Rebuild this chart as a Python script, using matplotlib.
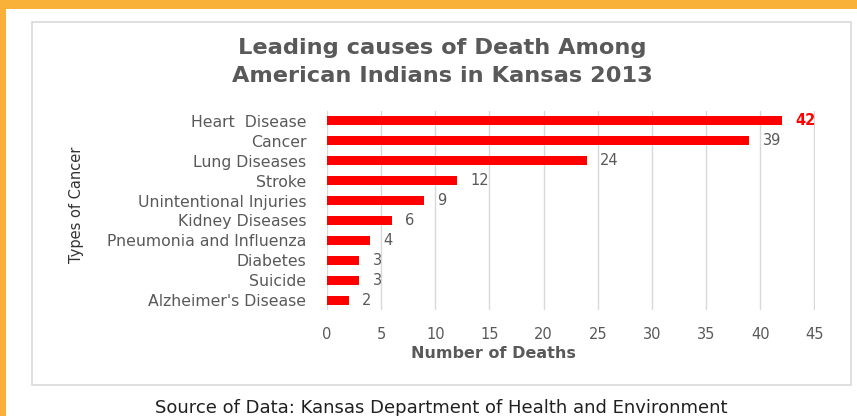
import matplotlib
matplotlib.use("Agg")
import matplotlib.pyplot as plt
from matplotlib.patches import Rectangle

plt.rcParams["font.family"] = ["DejaVu Sans"]

categories = ["Heart  Disease", "Cancer", "Lung Diseases", "Stroke", "Unintentional Injuries",
              "Kidney Diseases", "Pneumonia and Influenza", "Diabetes", "Suicide", "Alzheimer's Disease"]
deaths = [42, 39, 24, 12, 9, 6, 4, 3, 3, 2]
xticks = [0, 5, 10, 15, 20, 25, 30, 35, 40, 45]

W, H = 857, 416
fig = plt.figure(figsize=(W / 100, H / 100), dpi=100)
fig.patch.set_facecolor("white")

def px(x0, y0, w, h, **kw):
    fig.patches.append(Rectangle((x0 / W, 1 - (y0 + h) / H), w / W, h / H,
                                 transform=fig.transFigure, **kw))

orange = "#F9B13A"
px(0, 0, W, 9, facecolor=orange, edgecolor="none", zorder=-10)
px(0, 0, 6, H, facecolor=orange, edgecolor="none", zorder=-10)
px(32, 22, 819, 363, facecolor="white", edgecolor="#D9D9D9", linewidth=1.2, zorder=-10)

ax = fig.add_axes([327 / W, 1 - 310 / H, (815 - 327) / W, (310 - 111) / H])
ax.set_zorder(5)
ax.set_facecolor("none")
ypos = list(range(len(categories)))
ax.barh(ypos, deaths, height=0.45, color="#FF0000", zorder=3)
ax.set_ylim(len(categories) - 0.5, -0.5)
ax.set_xlim(0, 45.05)
ax.set_xticks(xticks)
ax.set_xticklabels([str(t) for t in xticks])
ax.set_yticks(ypos)
ax.set_yticklabels(categories)
for s in ax.spines.values():
    s.set_visible(False)
ax.tick_params(axis="both", length=0, colors="#595959")
ax.tick_params(axis="x", pad=12, labelsize=10.5)
ax.tick_params(axis="y", pad=15, labelsize=11.3)
ax.grid(axis="x", color="#D9D9D9", linewidth=1, zorder=0)
ax.set_axisbelow(True)

for i, v in enumerate(deaths):
    if i == 0:
        ax.text(v + 1.2, i, str(v), va="center", ha="left", fontsize=10.5,
                color="#FF0000", fontweight="bold")
    else:
        ax.text(v + 1.2, i, str(v), va="center", ha="left", fontsize=10.5, color="#595959")

fig.text(493 / W, 1 - 353 / H, "Number of Deaths", ha="center", va="center",
         fontsize=11.5, fontweight="bold", color="#595959")

fig.text(76 / W, 1 - 205 / H, "Types of Cancer", rotation=90, ha="center", va="center",
         fontsize=10.5, color="#333333")

fig.text(442 / W, 1 - 48 / H, "Leading causes of Death Among", ha="center", va="center",
         fontsize=16.2, fontweight="bold", color="#595959")
fig.text(442 / W, 1 - 76 / H, "American Indians in Kansas 2013", ha="center", va="center",
         fontsize=16.2, fontweight="bold", color="#595959")

fig.text(441 / W, 1 - 408 / H, "Source of Data: Kansas Department of Health and Environment",
         ha="center", va="center", fontsize=13, color="#202020")

fig.savefig("out.png", dpi=100)
